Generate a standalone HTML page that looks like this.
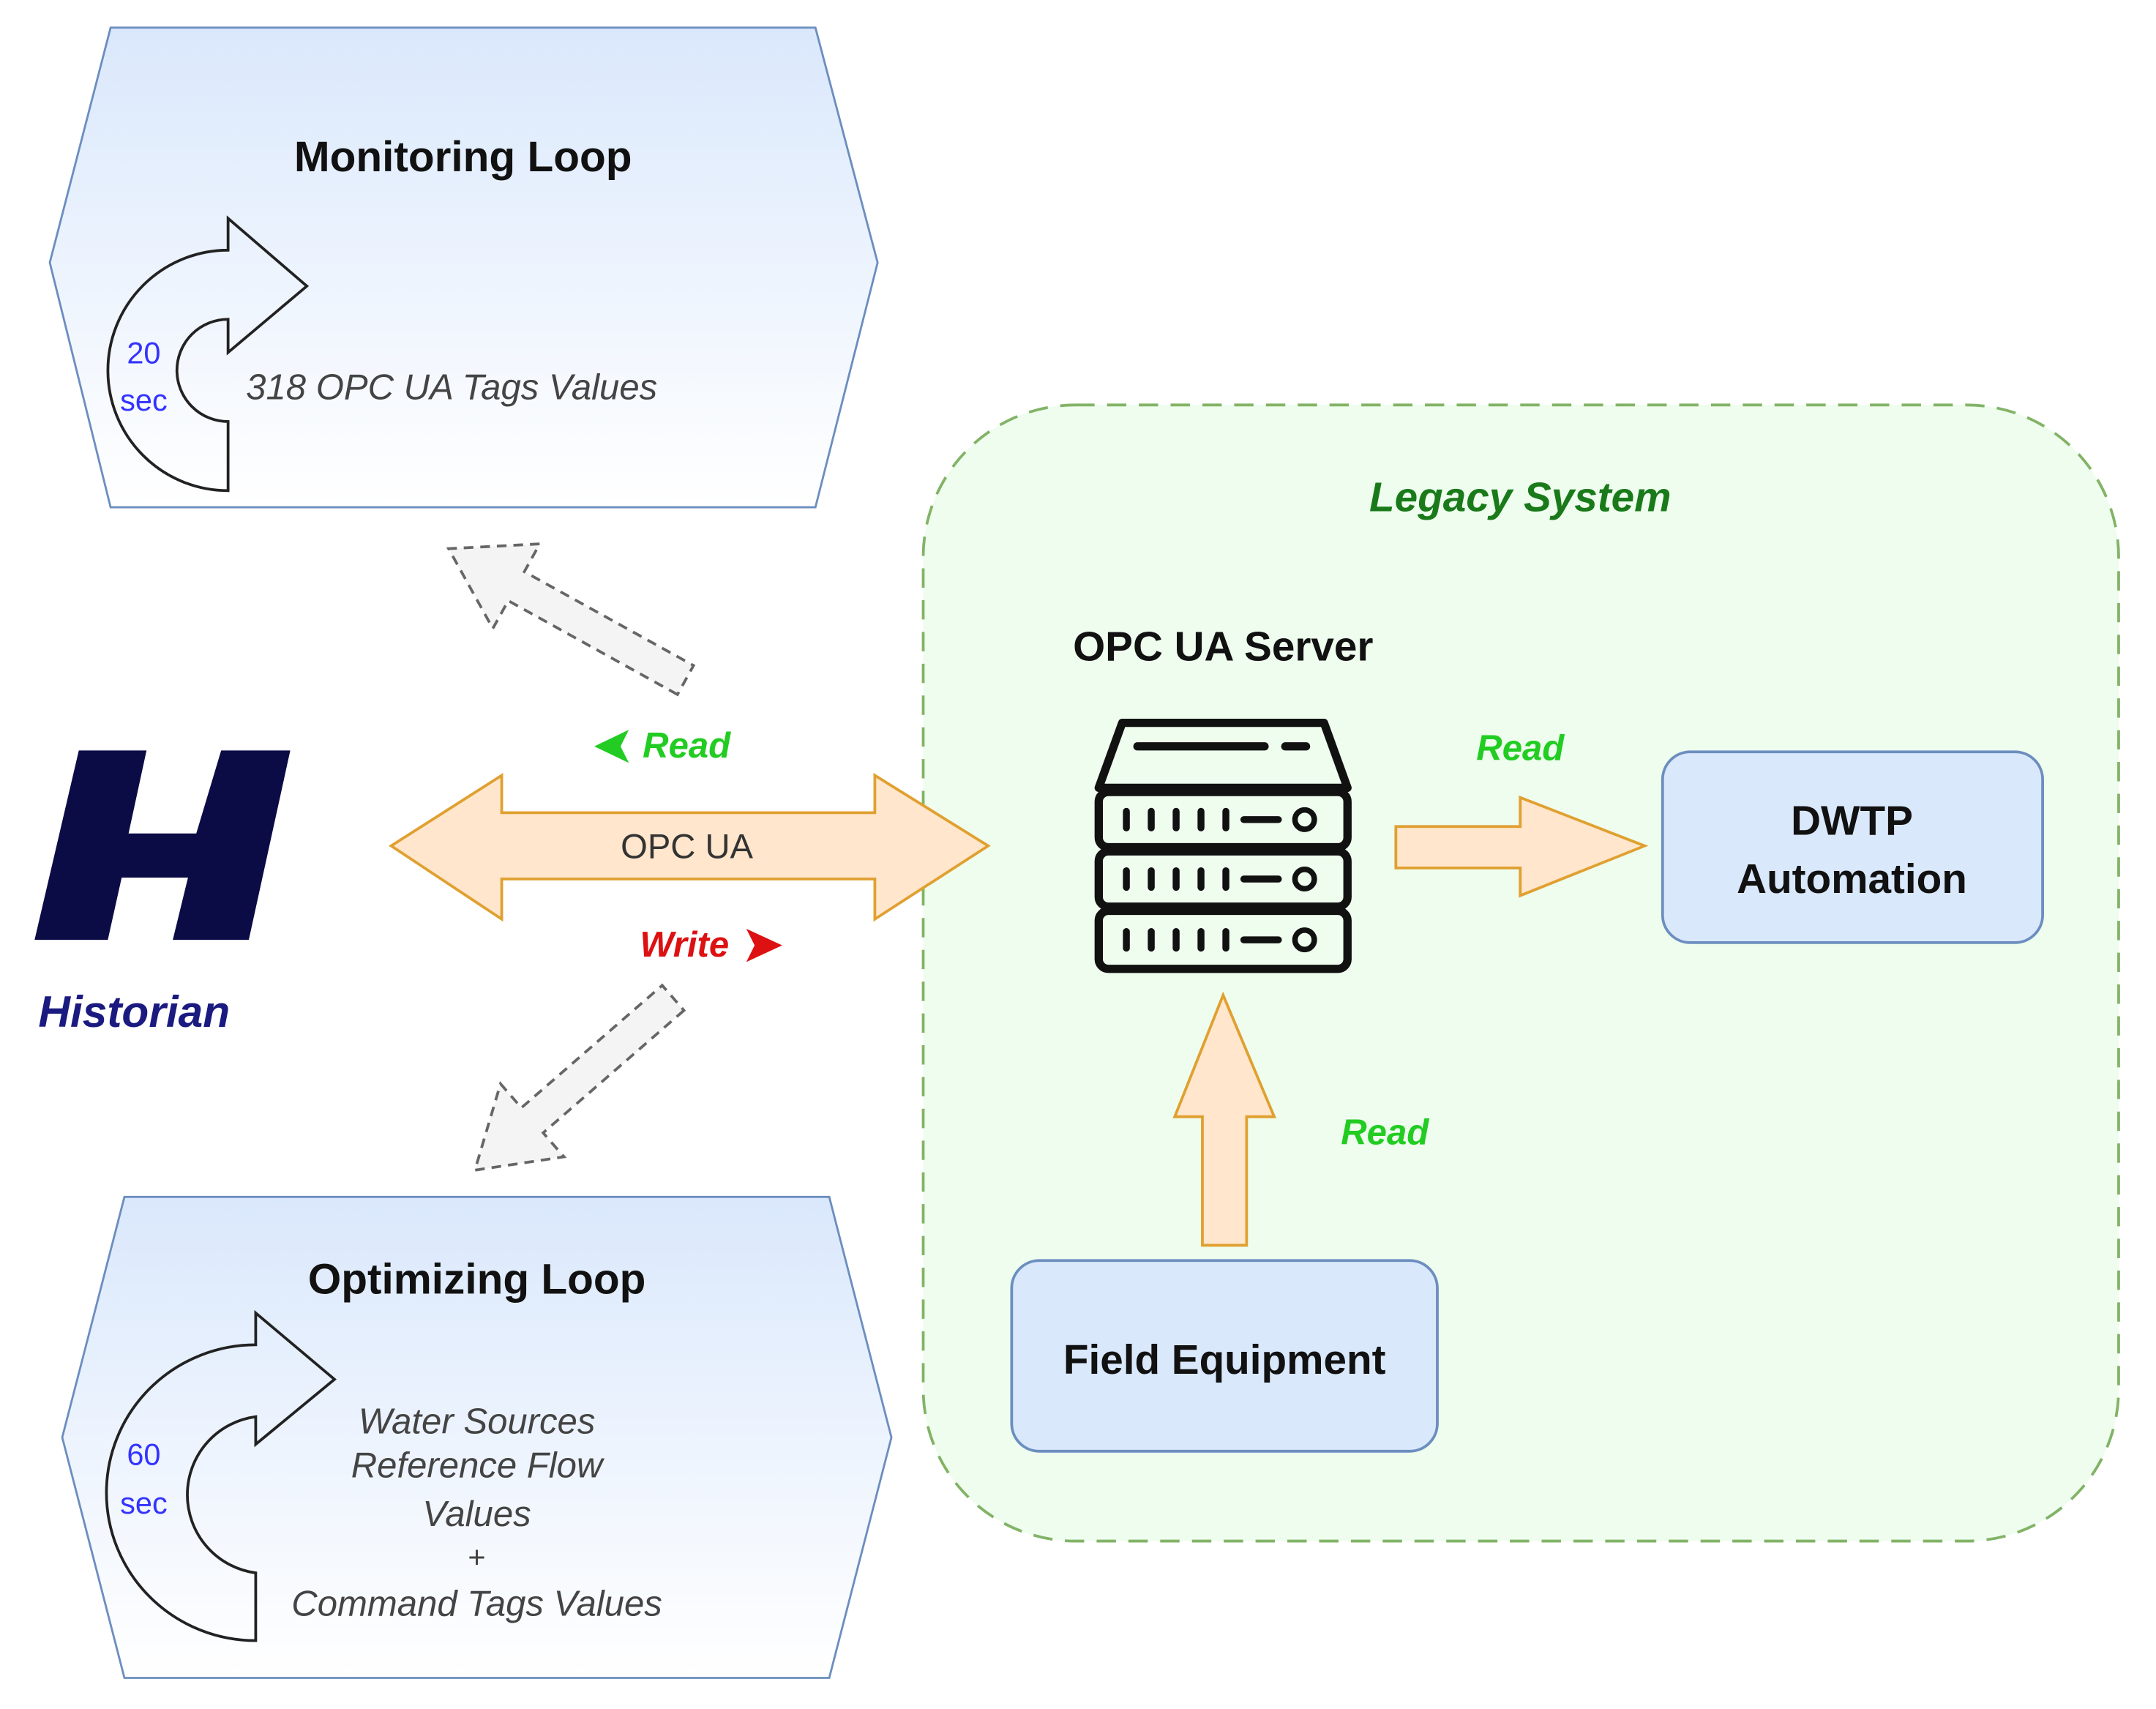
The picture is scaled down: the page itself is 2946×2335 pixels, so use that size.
<!DOCTYPE html>
<html><head><meta charset="utf-8"><style>
html,body{margin:0;padding:0;background:#fff;}
svg{display:block;}
text{font-family:"Liberation Sans",sans-serif;}
</style></head><body>
<svg width="2946" height="2335" viewBox="0 0 1560 1236.5" xmlns="http://www.w3.org/2000/svg">
<defs>
<linearGradient id="bg" x1="0" y1="0" x2="0" y2="1">
<stop offset="0" stop-color="#dae8fc"/><stop offset="1" stop-color="#ffffff"/>
</linearGradient>
</defs>
<rect width="1560" height="1237" fill="#fff"/>

<!-- Monitoring loop -->
<polygon points="80,20 590,20 635,190 590,367 80,367 36,190" fill="url(#bg)" stroke="#6c8ebf" stroke-width="1.5"/>
<text x="335" y="124" font-size="31" font-weight="bold" text-anchor="middle" fill="#111">Monitoring Loop</text>
<path d="M165,355 A87,87 0 0 1 165,181 L165,158 L222,207 L165,255 L165,231 A37,37 0 0 0 165,305 Z" fill="none" stroke="#222" stroke-width="2"/>
<text x="104" y="263" font-size="22" text-anchor="middle" fill="#3333ff">20</text>
<text x="104" y="297" font-size="22" text-anchor="middle" fill="#3333ff">sec</text>
<text x="178" y="289" font-size="26" font-style="italic" fill="#444">318 OPC UA Tags Values</text>

<!-- Optimizing loop -->
<polygon points="90,866 600,866 645,1040 600,1214 90,1214 45,1040" fill="url(#bg)" stroke="#6c8ebf" stroke-width="1.5"/>
<text x="345" y="936" font-size="31" font-weight="bold" text-anchor="middle" fill="#111">Optimizing Loop</text>
<path d="M185,1187 A108,107 0 0 1 185,973 L185,950 L242,998 L185,1045 L185,1025 A57,57 0 0 0 185,1138 Z" fill="none" stroke="#222" stroke-width="2"/>
<text x="104" y="1060" font-size="22" text-anchor="middle" fill="#3333ff">60</text>
<text x="104" y="1095" font-size="22" text-anchor="middle" fill="#3333ff">sec</text>
<g font-size="26" font-style="italic" fill="#444" text-anchor="middle">
<text x="345" y="1037">Water Sources</text>
<text x="345" y="1069">Reference Flow</text>
<text x="345" y="1104">Values</text>
<text x="345" y="1134" font-style="normal" font-size="22">+</text>
<text x="345" y="1169">Command Tags Values</text>
</g>

<!-- Legacy system -->
<rect x="668" y="293" width="865" height="822" rx="110" fill="#eefdee" stroke="#82b366" stroke-width="2" stroke-dasharray="14,9"/>
<text x="1100" y="370" font-size="30" font-weight="bold" font-style="italic" text-anchor="middle" fill="#1a7a1a">Legacy System</text>
<text x="885" y="478" font-size="30" text-anchor="middle" fill="#111" font-weight="bold">OPC UA Server</text>

<!-- server icon -->
<g fill="none" stroke="#111" stroke-width="6" stroke-linejoin="round" stroke-linecap="round">
<path d="M812,523 L958,523 L975,570 L795,570 Z"/>
<line x1="823" y1="540" x2="915" y2="540"/><line x1="930" y1="540" x2="945" y2="540"/>
<rect x="795" y="573" width="180" height="40" rx="7"/>
<rect x="795" y="616" width="180" height="40" rx="7"/>
<rect x="795" y="659" width="180" height="42" rx="7"/>
<g stroke-width="5">
<path d="M815,587v12 M833,587v12 M851,587v12 M869,587v12 M887,587v12 M900,593h25"/>
<path d="M815,630v12 M833,630v12 M851,630v12 M869,630v12 M887,630v12 M900,636h25"/>
<path d="M815,674v12 M833,674v12 M851,674v12 M869,674v12 M887,674v12 M900,680h25"/>
</g>
<circle cx="944" cy="593" r="7" stroke-width="4"/>
<circle cx="944" cy="636" r="7" stroke-width="4"/>
<circle cx="944" cy="680" r="7" stroke-width="4"/>
</g>

<!-- right arrow -->
<polygon points="1010,598 1100,598 1100,577 1190,612 1100,648 1100,628 1010,628" fill="#ffe6cc" stroke="#e0a030" stroke-width="2"/>
<text x="1100" y="550" font-size="26" font-weight="bold" font-style="italic" text-anchor="middle" fill="#22cc22">Read</text>
<rect x="1203" y="544" width="275" height="138" rx="20" fill="#dae8fc" stroke="#6c8ebf" stroke-width="2"/>
<text x="1340" y="604" font-size="30" text-anchor="middle" fill="#111" font-weight="bold">DWTP</text>
<text x="1340" y="646" font-size="30" text-anchor="middle" fill="#111" font-weight="bold">Automation</text>

<!-- up arrow -->
<polygon points="885,720 922,808 902,808 902,901 870,901 870,808 850,808" fill="#ffe6cc" stroke="#e0a030" stroke-width="2"/>
<text x="1002" y="828" font-size="26" font-weight="bold" font-style="italic" text-anchor="middle" fill="#22cc22">Read</text>
<rect x="732" y="912" width="308" height="138" rx="20" fill="#dae8fc" stroke="#6c8ebf" stroke-width="2"/>
<text x="886" y="994" font-size="30" text-anchor="middle" fill="#111" font-weight="bold">Field Equipment</text>

<!-- double arrow -->
<polygon points="283,612 363,561 363,588 633,588 633,561 715,612 633,665 633,636 363,636 363,665" fill="#ffe6cc" stroke="#e0a030" stroke-width="2"/>
<text x="497" y="621" font-size="25" text-anchor="middle" fill="#333">OPC UA</text>
<polygon points="430,540 455,528 449,540 455,552" fill="#22cc22"/>
<text x="465" y="548" font-size="26" font-weight="bold" font-style="italic" fill="#22cc22">Read</text>
<text x="463" y="692" font-size="26" font-weight="bold" font-style="italic" fill="#dd1111">Write</text>
<polygon points="566,684 540,672 546,684 540,696" fill="#dd1111"/>

<!-- gray dashed arrows -->
<g fill="#f4f4f4" stroke="#666" stroke-width="2" stroke-dasharray="7,5">
<g transform="translate(496,492) rotate(209)">
<polygon points="0,-12 140,-12 140,-35 196,0 140,35 140,12 0,12"/>
</g>
<g transform="translate(487,722) rotate(139)">
<polygon points="0,-12 135,-12 135,-35 190,0 135,35 135,12 0,12"/>
</g>
</g>

<!-- Historian logo -->
<g fill="#0b0b45">
<polygon points="57,543 106,543 93,603 142,603 160,543 210,543 180,680 125,680 136,635 88,635 78,680 25,680"/>
</g>
<text x="97" y="743" font-size="32" font-weight="bold" font-style="italic" text-anchor="middle" fill="#1a1a80">Historian</text>
</svg>
</body></html>
